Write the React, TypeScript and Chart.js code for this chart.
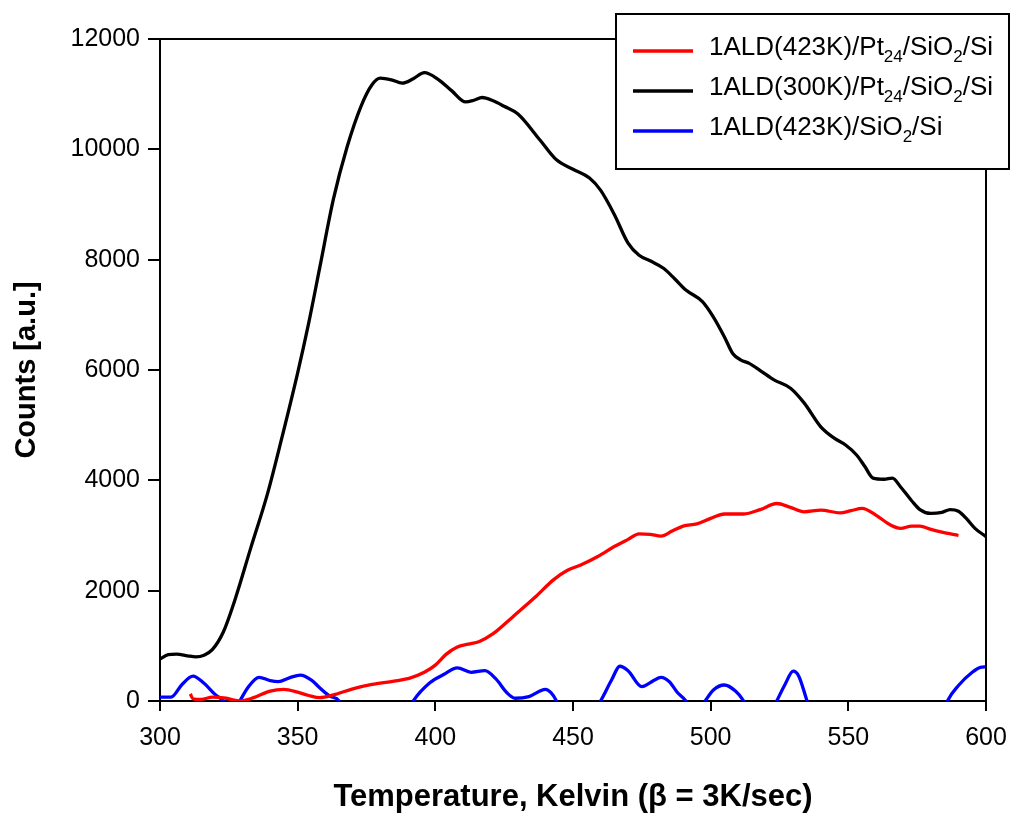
import React, { useEffect, useRef } from "react";
import { Chart, registerables } from "chart.js";

Chart.register(...registerables);

// ---------- data ----------
const blackT = [300, 303, 306, 310, 313, 316, 319, 323, 327, 333, 339, 344, 350, 354, 358, 363, 368, 373, 377, 380, 384, 388, 392, 396, 401, 406, 411, 414, 417, 421, 425, 430, 438, 444, 450, 456, 460, 465, 470, 474, 478, 483, 487, 491, 497, 501, 505, 508, 511, 514, 518, 523, 529, 534, 540, 545, 549, 553, 556, 559, 563, 566, 569, 573, 576, 580, 584, 587, 590, 593, 596, 600];
const blackCounts = [760, 840, 850, 820, 800, 830, 930, 1250, 1800, 2780, 3750, 4720, 5950, 6850, 7850, 9100, 10050, 10780, 11170, 11290, 11260, 11200, 11280, 11390, 11270, 11060, 10860, 10890, 10940, 10880, 10780, 10640, 10170, 9810, 9640, 9480, 9260, 8820, 8300, 8080, 7980, 7840, 7650, 7450, 7240, 6960, 6600, 6300, 6180, 6120, 5990, 5820, 5670, 5400, 4970, 4760, 4640, 4460, 4250, 4040, 4020, 4040, 3880, 3630, 3470, 3400, 3420, 3470, 3440, 3300, 3130, 2980];

const redT = [311, 312, 315, 319, 324, 329, 334, 340, 345, 350, 354, 358, 363, 370, 377, 385, 391, 396, 400, 404, 408, 412, 416, 421, 428, 436, 443, 448, 453, 459, 465, 470, 474, 478, 482, 486, 490, 495, 500, 505, 512, 518, 524, 529, 534, 540, 547, 551, 555, 560, 565, 569, 573, 576, 580, 584, 590];
const redCounts = [130, 40, 30, 70, 50, 0, 60, 180, 210, 160, 100, 60, 110, 220, 300, 360, 420, 520, 650, 850, 980, 1030, 1080, 1220, 1520, 1870, 2200, 2370, 2470, 2620, 2800, 2930, 3030, 3020, 2990, 3080, 3170, 3210, 3310, 3390, 3390, 3470, 3580, 3510, 3430, 3460, 3410, 3450, 3490, 3370, 3200, 3130, 3170, 3170, 3110, 3060, 3000];

const blueT = [300, 304, 308, 312, 316, 320, 323, 326, 329, 332, 336, 340, 343, 347, 351, 355, 358, 362, 365, 370, 378, 386, 392, 398, 403, 408, 413, 418, 422, 426, 429, 434, 440, 442, 444, 450, 456, 460, 464, 467, 470, 475, 478, 482, 485, 488, 491, 494, 498, 501, 505, 509, 512, 518, 524, 527, 530, 532, 535, 545, 560, 575, 586, 590, 595, 598, 600];
const blueCounts = [70, 70, 300, 450, 320, 120, 0, -250, 0, 250, 430, 370, 350, 420, 470, 380, 240, 80, 0, -800, -1200, -600, 0, 330, 480, 600, 520, 550, 400, 150, 50, 80, 210, 150, 0, -700, -300, 0, 380, 630, 550, 260, 330, 430, 350, 150, 0, -300, 0, 200, 290, 180, 0, -600, 0, 300, 540, 450, 0, -1500, -2500, -1500, 0, 280, 520, 610, 620];

const seriesLabels = [
  "1ALD(423K)/Pt_{24}/SiO_{2}/Si",
  "1ALD(300K)/Pt_{24}/SiO_{2}/Si",
  "1ALD(423K)/SiO_{2}/Si",
];
const seriesColors = ["#ff0000", "#000000", "#0000ff"];

const xTitle = "Temperature, Kelvin (\u03b2 = 3K/sec)";
const yTitle = "Counts [a.u.]";
const xMin = 300, xMax = 600, xStep = 50;
const yMin = 0, yMax = 12000, yStep = 2000;

const FONT = "'Liberation Sans', Arial, sans-serif";

function toPoints(xs: number[], ys: number[]) {
  return xs.map((x, i) => ({ x, y: ys[i] }));
}

function parseLabel(s: string) {
  const parts: { text: string; sub: boolean }[] = [];
  const re = /_\{([^}]*)\}/g;
  let last = 0;
  let m: RegExpExecArray | null;
  while ((m = re.exec(s))) {
    if (m.index > last) parts.push({ text: s.slice(last, m.index), sub: false });
    parts.push({ text: m[1], sub: true });
    last = m.index + m[0].length;
  }
  if (last < s.length) parts.push({ text: s.slice(last), sub: false });
  return parts;
}

const framePlugin = {
  id: "frame",
  afterDatasetsDraw(chart: any) {
    const { ctx, chartArea } = chart;
    ctx.save();
    ctx.strokeStyle = "#000";
    ctx.lineWidth = 2;
    ctx.beginPath();
    ctx.moveTo(chartArea.left - 12, chartArea.top);
    ctx.lineTo(chartArea.right, chartArea.top);
    ctx.lineTo(chartArea.right, chartArea.bottom);
    ctx.stroke();
    ctx.restore();
  },
};

const legendPlugin = {
  id: "subLegend",
  afterDraw(chart: any) {
    const { ctx } = chart;
    ctx.save();
    const bx = 616, by = 14, bw = 393, bh = 155;
    ctx.fillStyle = "#fff";
    ctx.fillRect(bx, by, bw, bh);
    ctx.strokeStyle = "#000";
    ctx.lineWidth = 2;
    ctx.strokeRect(bx, by, bw, bh);
    const rows = [51, 91, 131];
    seriesLabels.forEach((lab, i) => {
      const y = rows[i];
      ctx.strokeStyle = seriesColors[i];
      ctx.lineWidth = 3.5;
      ctx.beginPath();
      ctx.moveTo(633, y);
      ctx.lineTo(693, y);
      ctx.stroke();
      let x = 709;
      ctx.fillStyle = "#000";
      ctx.textBaseline = "alphabetic";
      ctx.textAlign = "left";
      for (const p of parseLabel(lab)) {
        if (p.sub) {
          ctx.font = `17px ${FONT}`;
          ctx.fillText(p.text, x, y + 11);
        } else {
          ctx.font = `26px ${FONT}`;
          ctx.fillText(p.text, x, y + 4);
        }
        x += ctx.measureText(p.text).width;
      }
    });
    ctx.restore();
  },
};

export default function App() {
  const ref = useRef<HTMLCanvasElement>(null);
  useEffect(() => {
    if (!ref.current) return;
    const chart = new Chart(ref.current, {
      type: "line",
      data: {
        datasets: [
          { label: seriesLabels[0], data: toPoints(redT, redCounts), borderColor: seriesColors[0] },
          { label: seriesLabels[1], data: toPoints(blackT, blackCounts), borderColor: seriesColors[1] },
          { label: seriesLabels[2], data: toPoints(blueT, blueCounts), borderColor: seriesColors[2] },
        ].map((d) => ({
          ...d,
          borderWidth: 3.3,
          pointRadius: 0,
          fill: false,
          cubicInterpolationMode: "monotone" as const,
        })),
      },
      options: {
        animation: false,
        responsive: false,
        layout: { padding: { top: 39, right: 25, left: 10, bottom: 0 } },
        plugins: { legend: { display: false }, tooltip: { enabled: false } },
        scales: {
          x: {
            type: "linear",
            min: xMin,
            max: xMax,
            ticks: { stepSize: xStep, color: "#000", font: { family: FONT, size: 25 }, padding: 12, maxRotation: 0, callback: (v: any) => String(v) },
            grid: { drawOnChartArea: false, drawTicks: true, tickLength: 10, color: "#000", lineWidth: 2 },
            border: { color: "#000", width: 2 },
            title: { display: true, text: xTitle, color: "#000", font: { family: FONT, size: 31, weight: "bold" }, padding: { top: 0, bottom: 3 } },
            afterFit: (s: any) => { s.height = 118; s.paddingLeft = 0; s.paddingRight = 0; },
          },
          y: {
            type: "linear",
            min: yMin,
            max: yMax,
            ticks: { stepSize: yStep, color: "#000", font: { family: FONT, size: 25 }, padding: 8, callback: (v: any) => String(v) },
            grid: { drawOnChartArea: false, drawTicks: true, tickLength: 12, color: "#000", lineWidth: 2 },
            border: { color: "#000", width: 2 },
            title: { display: true, text: yTitle, color: "#000", font: { family: FONT, size: 29, weight: "bold" }, padding: { top: 0, bottom: 0 } },
            afterFit: (s: any) => { s.width = 150; },
          },
        },
      },
      plugins: [framePlugin, legendPlugin],
    } as any);
    return () => chart.destroy();
  }, []);
  return (
    <div style={{ position: "fixed", left: 0, top: 0, width: 1011, height: 819, background: "#fff" }}>
      <canvas ref={ref} width={1011} height={819} />
    </div>
  );
}
